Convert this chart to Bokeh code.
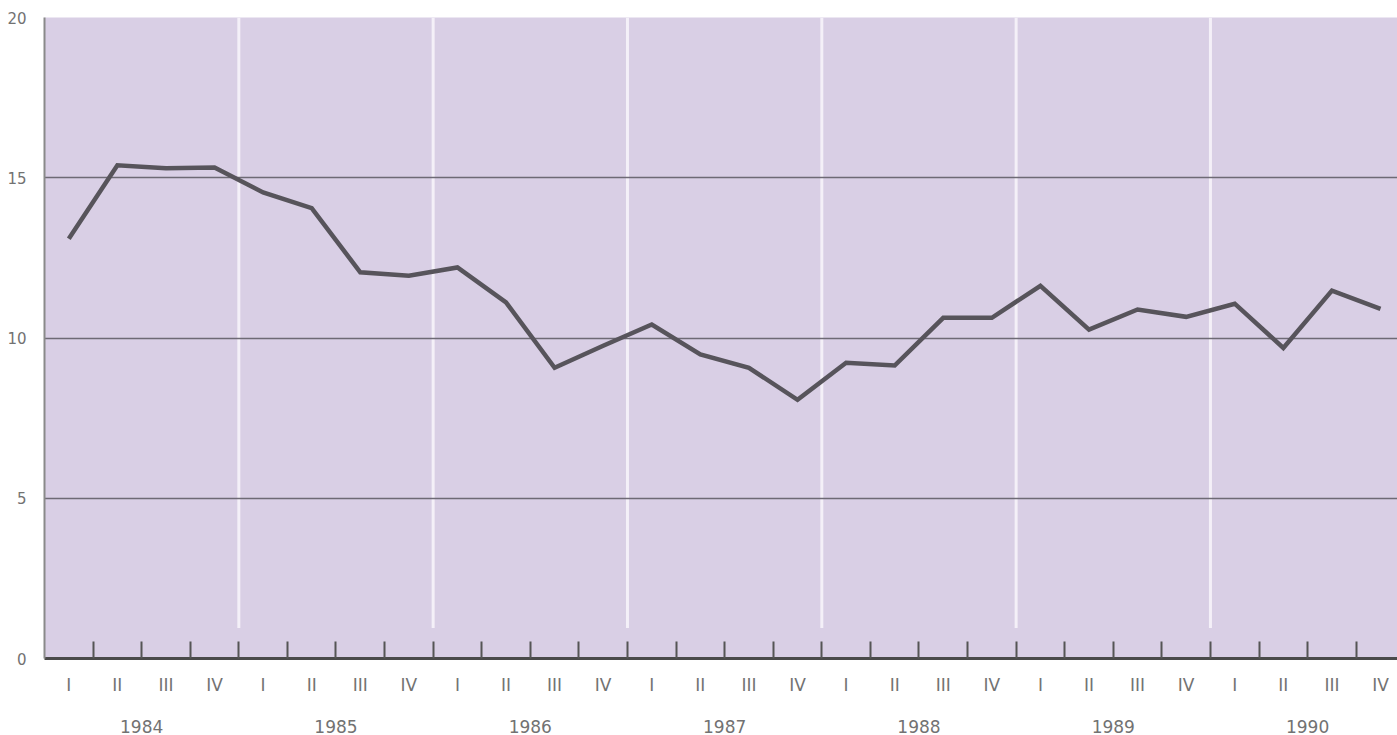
from bokeh.plotting import figure
from bokeh.models import FixedTicker, LinearAxis, Range1d
from bokeh.embed import file_html
from bokeh.resources import INLINE

years = ["1984", "1985", "1986", "1987", "1988", "1989", "1990"]
quarters = ["I", "II", "III", "IV"]
values = [13.1, 15.39, 15.3, 15.32,
          14.54, 14.05, 12.05, 11.94,
          12.2, 11.11, 9.07, 9.76,
          10.42, 9.49, 9.07, 8.07,
          9.23, 9.14, 10.63, 10.63,
          11.63, 10.26, 10.89, 10.66,
          11.07, 9.69, 11.48, 10.91]
y_ticks = [0, 5, 10, 15, 20]

n = len(values)
xq = [i + 0.5 for i in range(n)]
q_bounds = [float(i) for i in range(1, n)]
y_bounds = [float(4 * k) for k in range(1, len(years))]
y_centers = [4 * k + 2.0 for k in range(len(years))]

FONT = "DejaVu Sans"
TXT = "#727272"

p = figure(width=1397, height=735, output_backend="svg", toolbar_location=None,
           x_range=Range1d(0, 27.85), y_range=Range1d(0, 20),
           min_border_left=44, min_border_top=17, min_border_bottom=75,
           min_border_right=0, x_axis_location=None)
p.background_fill_color = "#d9cfe5"
p.border_fill_color = "white"
p.outline_line_color = None
p.xgrid.visible = False

p.ygrid.ticker = FixedTicker(ticks=y_ticks)
p.ygrid.grid_line_color = "#6e6a75"
p.ygrid.grid_line_width = 1.6
p.ygrid.level = "glyph"

yax = p.yaxis[0]
yax.ticker = FixedTicker(ticks=y_ticks)
yax.major_tick_line_color = None
yax.minor_tick_line_color = None
yax.axis_line_color = "#8a8a8a"
yax.axis_line_width = 2
yax.major_label_text_font = FONT
yax.major_label_text_font_size = "15px"
yax.major_label_text_color = TXT
yax.major_label_standoff = 12

# white separators between years
sep = p.segment(x0=y_bounds, y0=[0.95] * len(y_bounds), x1=y_bounds, y1=[20] * len(y_bounds),
                line_color="#f4f0f8", line_width=3)
sep.level = "underlay"

ln = p.line(xq, values, line_color="#57545b", line_width=4.5, line_join="miter")
ln.level = "annotation"

qa = LinearAxis(ticker=FixedTicker(ticks=xq, minor_ticks=q_bounds),
                major_label_overrides={x: quarters[i % 4] for i, x in enumerate(xq)},
                major_tick_line_color=None, major_tick_in=0, major_tick_out=0,
                minor_tick_in=17, minor_tick_out=0,
                minor_tick_line_color="#555555", minor_tick_line_width=2,
                axis_line_color="#4a4a4a", axis_line_width=3,
                major_label_standoff=16, major_label_text_font=FONT,
                major_label_text_font_size="17px", major_label_text_color=TXT)
p.add_layout(qa, "below")

ya = LinearAxis(ticker=FixedTicker(ticks=y_centers),
                major_label_overrides={c: years[i] for i, c in enumerate(y_centers)},
                major_tick_line_color=None, major_tick_in=0, major_tick_out=0,
                minor_tick_line_color=None, axis_line_color=None,
                major_label_standoff=22, major_label_text_font=FONT,
                major_label_text_font_size="17px", major_label_text_color=TXT)
p.add_layout(ya, "below")

open("out.html", "w").write(file_html(p, INLINE))
